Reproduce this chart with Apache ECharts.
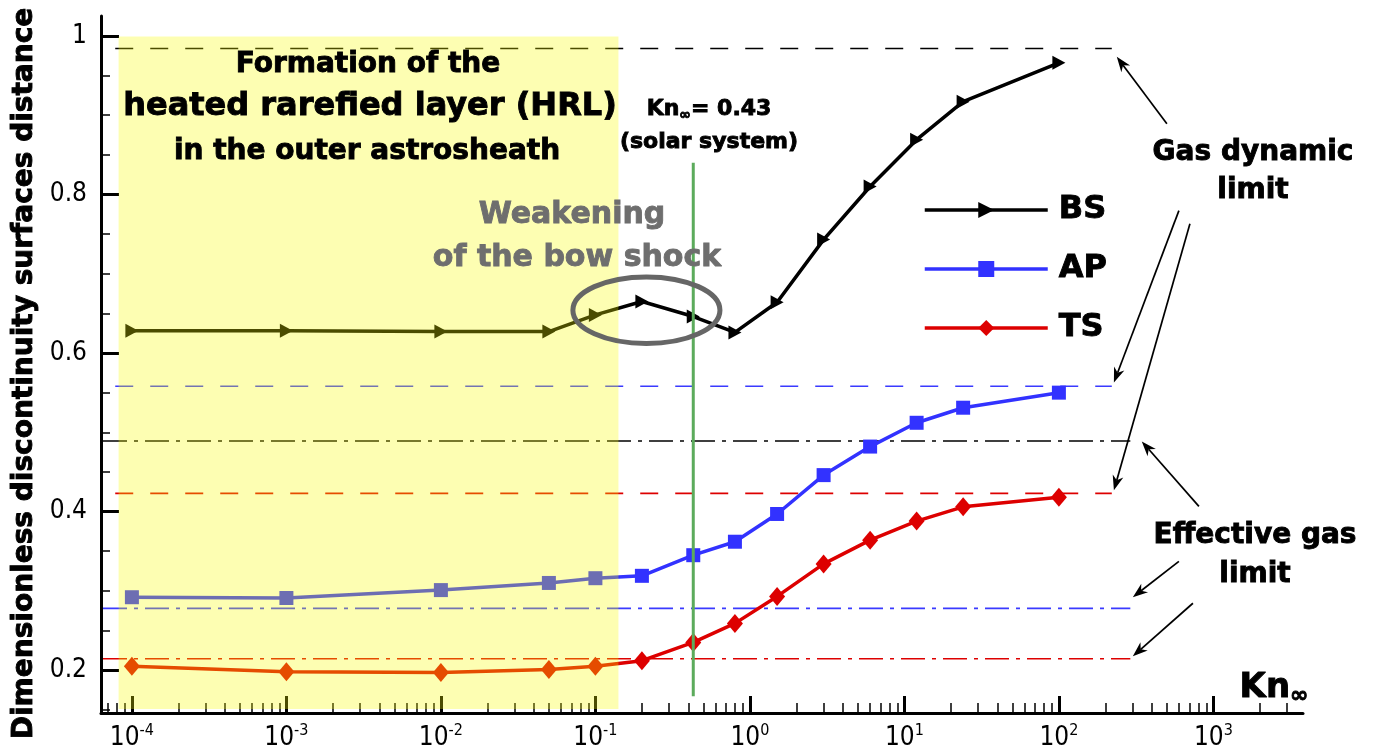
<!DOCTYPE html>
<html><head><meta charset="utf-8">
<script src="https://cdn.jsdelivr.net/npm/echarts@6/dist/echarts.min.js"></script>
<style>html,body{margin:0;padding:0;background:#fff}#c{width:1374px;height:751px}</style>
</head><body><div id="c"></div>
<script>
// ---------- data ----------
const KN = [1e-4, 1e-3, 1e-2, 0.05, 0.1, 0.2, 0.43, 0.8, 1.5, 3, 6, 12, 24, 100];
const BS = [0.628, 0.628, 0.627, 0.627, 0.648, 0.665, 0.646, 0.626, 0.664, 0.743, 0.810, 0.869, 0.917, 0.966];
const AP = [0.292, 0.291, 0.301, 0.310, 0.316, 0.319, 0.345, 0.362, 0.397, 0.446, 0.482, 0.512, 0.531, 0.550];
const TS = [0.205, 0.198, 0.197, 0.201, 0.205, 0.212, 0.235, 0.259, 0.293, 0.334, 0.364, 0.388, 0.406, 0.418];
const SERIES_NAMES = ['BS', 'AP', 'TS'];
const GAS_DYNAMIC_LIMIT = [0.984, 0.558, 0.423];      // BS, AP, TS
const EFFECTIVE_GAS_LIMIT = [0.489, 0.278, 0.2145];   // BS, AP, TS
const GAS_DYNAMIC_SPAN = [7.8e-5, 220];
const EFFECTIVE_GAS_SPAN = [6.5e-5, 290];
const HRL_KN = [8.2e-5, 0.141];
const HRL_Y = [0.151, 0.999];
const SOLAR_KN = 0.43;
const SOLAR_Y = [0.167, 0.84];
const WEAK_KN = [0.0715, 0.64];
const WEAK_Y = [0.612, 0.696];
// arrows: [tailKn, tailY, headKn, headY]
const ARROWS = [
  [500, 0.889, 237, 0.9735],
  [598, 0.7795, 227, 0.5628],
  [705, 0.7631, 227, 0.4268],
  [806, 0.4066, 344, 0.4885],
  [598, 0.3373, 301, 0.292],
  [737, 0.2844, 301, 0.2176]
];
const X_MIN = Math.pow(10, -4.2);
const X_MAX = Math.pow(10, 3.58);
const X_MAJOR = [1e-4, 1e-3, 1e-2, 1e-1, 1, 10, 100, 1000];
const X_MINOR = [7e-5, 8e-5, 9e-5,
  2e-4, 3e-4, 4e-4, 5e-4, 6e-4, 7e-4, 8e-4, 9e-4,
  2e-3, 3e-3, 4e-3, 5e-3, 6e-3, 7e-3, 8e-3, 9e-3,
  0.02, 0.03, 0.04, 0.05, 0.06, 0.07, 0.08, 0.09,
  0.2, 0.3, 0.4, 0.5, 0.6, 0.7, 0.8, 0.9,
  2, 3, 4, 5, 6, 7, 8, 9,
  20, 30, 40, 50, 60, 70, 80, 90,
  200, 300, 400, 500, 600, 700, 800, 900,
  2000, 3000];
const Y_MIN = 0.146, Y_MAX = 1.025;
const Y_MAJOR = [0.2, 0.4, 0.6, 0.8, 1];
const Y_MINOR = [0.15, 0.25, 0.3, 0.35, 0.45, 0.5, 0.55, 0.65, 0.7, 0.75, 0.85, 0.9, 0.95];

// ---------- styles ----------
const COLORS = { BS: '#000000', AP: '#3232ff', TS: '#dd0000' };
const LIMIT_COLORS = ['#000000', '#3a3aff', '#dd0000'];
const BOLD = 'DejaVu Sans';
const NARROW = "'Liberation Sans Narrow', 'DejaVu Sans Condensed', 'Liberation Sans', sans-serif";

function pairs(ys) { return KN.map((k, i) => [k, ys[i]]); }

const mainSeries = [
  { name: 'BS', type: 'line', data: pairs(BS), symbol: 'triangle', symbolRotate: -90, symbolSize: [14, 13],
    lineStyle: { width: 3.5, color: COLORS.BS }, itemStyle: { color: COLORS.BS }, z: 3 },
  { name: 'AP', type: 'line', data: pairs(AP), symbol: 'rect', symbolSize: 14,
    lineStyle: { width: 3.5, color: COLORS.AP }, itemStyle: { color: COLORS.AP }, z: 3 },
  { name: 'TS', type: 'line', data: pairs(TS), symbol: 'diamond', symbolSize: [16, 19],
    lineStyle: { width: 3.5, color: COLORS.TS }, itemStyle: { color: COLORS.TS }, z: 3 }
].map(s => Object.assign(s, { showSymbol: true, showAllSymbol: true, silent: true }));

const limitSeries = [];
GAS_DYNAMIC_LIMIT.forEach((v, i) => limitSeries.push({
  type: 'line', data: [[GAS_DYNAMIC_SPAN[0], v], [GAS_DYNAMIC_SPAN[1], v]], symbol: 'none', silent: true, z: 2,
  lineStyle: { width: 1.6, color: LIMIT_COLORS[i], type: [18, 17] }
}));
EFFECTIVE_GAS_LIMIT.forEach((v, i) => limitSeries.push({
  type: 'line', data: [[EFFECTIVE_GAS_SPAN[0], v], [EFFECTIVE_GAS_SPAN[1], v]], symbol: 'none', silent: true, z: 2,
  lineStyle: { width: 1.6, color: LIMIT_COLORS[i], type: [24, 7, 4, 7] }
}));

const solarSeries = {
  type: 'line', data: [[SOLAR_KN, SOLAR_Y[0]], [SOLAR_KN, SOLAR_Y[1]]], symbol: 'none', silent: true, z: 6,
  lineStyle: { width: 3, color: '#5cab5c' }
};

const hrlSeries = {
  type: 'custom', silent: true, z: 5, data: [[HRL_KN[0], HRL_Y[0], HRL_KN[1], HRL_Y[1]]],
  renderItem: (params, api) => {
    const p0 = api.coord([api.value(0), api.value(3)]);
    const p1 = api.coord([api.value(2), api.value(1)]);
    return { type: 'rect', shape: { x: p0[0], y: p0[1], width: p1[0] - p0[0], height: p1[1] - p0[1] },
      style: { fill: 'rgba(250,252,0,0.3)' } };
  }
};

const ellipseSeries = {
  type: 'custom', silent: true, z: 7, data: [[WEAK_KN[0], WEAK_Y[0], WEAK_KN[1], WEAK_Y[1]]],
  renderItem: (params, api) => {
    const p0 = api.coord([api.value(0), api.value(1)]);
    const p1 = api.coord([api.value(2), api.value(3)]);
    const cx = (p0[0] + p1[0]) / 2, cy = (p0[1] + p1[1]) / 2;
    const rx = Math.abs(p1[0] - p0[0]) / 2, ry = Math.abs(p1[1] - p0[1]) / 2;
    const d = `M ${cx - rx} ${cy} A ${rx} ${ry} 0 1 0 ${cx + rx} ${cy} A ${rx} ${ry} 0 1 0 ${cx - rx} ${cy} Z`;
    return { type: 'path', shape: { pathData: d }, style: { fill: 'none', stroke: '#666666', lineWidth: 5 } };
  }
};

const arrowSeries = {
  type: 'custom', silent: true, z: 7, data: ARROWS,
  renderItem: (params, api) => {
    const a = api.coord([api.value(0), api.value(1)]);
    const b = api.coord([api.value(2), api.value(3)]);
    const dx = b[0] - a[0], dy = b[1] - a[1], L = Math.hypot(dx, dy), ux = dx / L, uy = dy / L;
    const hl = 15, hw = 5.5;
    const base = [b[0] - ux * hl, b[1] - uy * hl];
    const left = [base[0] - uy * hw, base[1] + ux * hw];
    const right = [base[0] + uy * hw, base[1] - ux * hw];
    const notch = [b[0] - ux * hl * 0.7, b[1] - uy * hl * 0.7];
    return { type: 'group', children: [
      { type: 'line', shape: { x1: a[0], y1: a[1], x2: notch[0], y2: notch[1] }, style: { stroke: '#000', lineWidth: 1.7 } },
      { type: 'polygon', shape: { points: [b, left, notch, right] }, style: { fill: '#000' } }
    ] };
  }
};

function txt(text, x, y, size, color, rich) {
  const c = color || '#000';
  const st = { text: text, x: 0, y: 0, fontSize: size, fontWeight: 'bold', fontFamily: BOLD,
    fill: c, stroke: c, lineWidth: 0.9, align: 'center', verticalAlign: 'middle' };
  if (rich) st.rich = rich;
  return { type: 'text', x: x, y: y, z: 100, silent: true, style: st };
}
const knRich = (a, b) => ({
  a: { fontSize: a, fontWeight: 'bold', fontFamily: BOLD, fill: '#000', stroke: '#000', lineWidth: 0.9, lineHeight: a + 4 },
  b: { fontSize: b, fontWeight: 'bold', fontFamily: BOLD, fill: '#000', stroke: '#000', lineWidth: 0.9, verticalAlign: 'bottom', lineHeight: b }
});

const chart = echarts.init(document.getElementById('c'));
chart.setOption({
  animation: false,
  backgroundColor: '#ffffff',
  grid: { left: 101, right: 71, top: 16, bottom: 37, containLabel: false },
  xAxis: [{
    type: 'log', min: X_MIN, max: X_MAX,
    axisLine: { show: true, lineStyle: { color: '#000', width: 3 } },
    axisTick: { show: true, inside: true, length: 17, lineStyle: { color: '#000', width: 3 }, customValues: X_MAJOR },
    axisLabel: {
      customValues: X_MAJOR, margin: 10, color: '#000',
      formatter: v => '{b|10}{s|' + Math.round(Math.log10(v)) + '}',
      rich: {
        b: { fontSize: 26, fontFamily: NARROW, color: '#000', lineHeight: 30 },
        s: { fontSize: 16, fontFamily: NARROW, color: '#000', verticalAlign: 'top', lineHeight: 14 }
      }
    },
    splitLine: { show: false }, minorTick: { show: false }
  }, {
    type: 'log', min: X_MIN, max: X_MAX, position: 'bottom', gridIndex: 0,
    axisLine: { show: false },
    axisTick: { show: true, inside: true, length: 10, lineStyle: { color: '#000', width: 1.5 }, customValues: X_MINOR },
    axisLabel: { show: false }, splitLine: { show: false }
  }],
  yAxis: [{
    type: 'value', min: Y_MIN, max: Y_MAX, position: 'left',
    axisLine: { show: true, lineStyle: { color: '#000', width: 3 } },
    axisTick: { show: true, inside: true, length: 18, lineStyle: { color: '#000', width: 3 }, customValues: Y_MAJOR },
    axisLabel: { customValues: Y_MAJOR, margin: 14, fontSize: 26, fontFamily: NARROW, color: '#000' },
    splitLine: { show: false },
    name: 'Dimensionless discontinuity surfaces distance',
    nameLocation: 'middle', nameRotate: 90, nameGap: 57,
    nameTextStyle: { fontSize: 28, fontWeight: 'bold', fontFamily: BOLD, color: '#000',
      textBorderColor: '#000', textBorderWidth: 0.9, padding: [0, 18, 0, 0] }
  }, {
    type: 'value', min: Y_MIN, max: Y_MAX, position: 'left', offset: 0,
    axisLine: { show: false },
    axisTick: { show: true, inside: true, length: 9, lineStyle: { color: '#000', width: 1.5 }, customValues: Y_MINOR },
    axisLabel: { show: false }, splitLine: { show: false }
  }],
  legend: {
    data: SERIES_NAMES, orient: 'vertical', left: 923, top: 193, padding: 0,
    itemWidth: 123, itemHeight: 20, itemGap: 25,
    lineStyle: { width: 3.5 },
    textStyle: { fontSize: 32, fontWeight: 'bold', fontFamily: BOLD, color: '#000', lineHeight: 34,
      textBorderColor: '#000', textBorderWidth: 0.9, padding: [0, 0, 0, 6] },
    selectedMode: false
  },
  series: [...limitSeries, ...mainSeries, solarSeries, hrlSeries, ellipseSeries, arrowSeries],
  graphic: { elements: [
    txt('Formation of the', 368, 65, 28),
    txt('heated rarefied layer (HRL)', 370, 107, 32),
    txt('in the outer astrosheath', 367, 152, 28),
    txt('Weakening', 572, 215, 30, '#6e6e6e'),
    txt('of the bow shock', 577, 258, 30, '#6e6e6e'),
    txt('{a|Kn}{b|\u221e}{a|= 0.43}', 709, 109, 22, '#000', knRich(22, 14)),
    txt('(solar system)', 709, 142, 22),
    txt('Gas dynamic', 1253, 153, 28),
    txt('limit', 1253, 191, 28),
    txt('Effective gas', 1255, 536, 28),
    txt('limit', 1255, 575, 28),
    txt('{a|Kn}{b|\u221e}', 1274, 688, 34, '#000', knRich(34, 22))
  ] }
});
</script></body></html>
